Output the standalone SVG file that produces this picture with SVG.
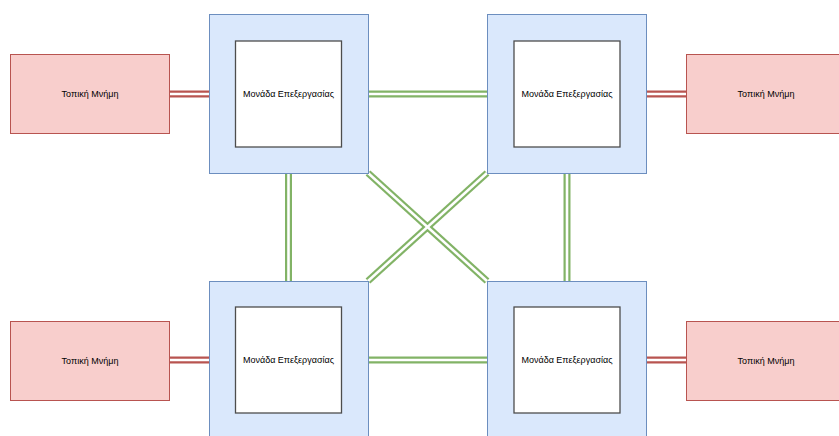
<svg xmlns="http://www.w3.org/2000/svg" width="839" height="436" viewBox="0 0 839 436">
  <style>
    .mem { fill: #f8cecc; stroke: #b85450; stroke-width: 1; }
    .pu { fill: #dae8fc; stroke: #6c8ebf; stroke-width: 1; }
    .core { fill: #ffffff; stroke: #4d4d4d; stroke-width: 1.3; }
    .lbl { font-family: "Liberation Sans", Arial, Helvetica, sans-serif; font-size: 9px; fill: #000000; text-anchor: middle; dominant-baseline: central; }
    .busG { stroke: #82b366; stroke-width: 7; fill: none; }
    .busR { stroke: #b85450; stroke-width: 7; fill: none; }
    .gap { stroke: #ffffff; stroke-width: 2.6; fill: none; }
  </style>
  <rect width="839" height="436" fill="#ffffff"/>

  <!-- double-line links -->
  <g id="connectors">
    <g class="busR">
      <line x1="170" y1="94" x2="209" y2="94"/>
      <line x1="646" y1="94" x2="686" y2="94"/>
      <line x1="170" y1="360" x2="209" y2="360"/>
      <line x1="646" y1="360" x2="686" y2="360"/>
    </g>
    <g class="busG">
      <line x1="368" y1="94" x2="487" y2="94"/>
      <line x1="368" y1="360" x2="487" y2="360"/>
      <line x1="288.5" y1="174" x2="288.5" y2="281"/>
      <line x1="567" y1="174" x2="567" y2="281"/>
      <line x1="368" y1="173" x2="487" y2="281"/>
      <line x1="487" y1="173" x2="368" y2="281"/>
    </g>
    <g class="gap">
      <line x1="170" y1="94" x2="209" y2="94"/>
      <line x1="646" y1="94" x2="686" y2="94"/>
      <line x1="170" y1="360" x2="209" y2="360"/>
      <line x1="646" y1="360" x2="686" y2="360"/>
      <line x1="368" y1="94" x2="487" y2="94"/>
      <line x1="368" y1="360" x2="487" y2="360"/>
      <line x1="288.5" y1="174" x2="288.5" y2="281"/>
      <line x1="567" y1="174" x2="567" y2="281"/>
      <line x1="368" y1="173" x2="487" y2="281"/>
      <line x1="487" y1="173" x2="368" y2="281"/>
    </g>
  </g>

  <!-- local memories -->
  <g id="mem-tl">
    <rect class="mem" x="10.5" y="54.5" width="159" height="79"/>
    <text class="lbl" x="90" y="94">Τοπική Μνήμη</text>
  </g>
  <g id="mem-tr">
    <rect class="mem" x="686.5" y="54.5" width="159" height="79"/>
    <text class="lbl" x="766" y="94">Τοπική Μνήμη</text>
  </g>
  <g id="mem-bl">
    <rect class="mem" x="10.5" y="321.5" width="159" height="79"/>
    <text class="lbl" x="90" y="361">Τοπική Μνήμη</text>
  </g>
  <g id="mem-br">
    <rect class="mem" x="686.5" y="321.5" width="159" height="79"/>
    <text class="lbl" x="766" y="361">Τοπική Μνήμη</text>
  </g>

  <!-- processing units -->
  <g id="pu-tl">
    <rect class="pu" x="209.5" y="14.5" width="159" height="159"/>
    <rect class="core" x="235.5" y="41" width="106" height="106"/>
    <text class="lbl" x="288.5" y="94">Μονάδα Επεξεργασίας</text>
  </g>
  <g id="pu-tr">
    <rect class="pu" x="487.5" y="14.5" width="159" height="159"/>
    <rect class="core" x="514" y="41" width="106" height="106"/>
    <text class="lbl" x="567" y="94">Μονάδα Επεξεργασίας</text>
  </g>
  <g id="pu-bl">
    <rect class="pu" x="209.5" y="281.5" width="159" height="159"/>
    <rect class="core" x="235.5" y="307" width="106" height="106"/>
    <text class="lbl" x="288.5" y="360">Μονάδα Επεξεργασίας</text>
  </g>
  <g id="pu-br">
    <rect class="pu" x="487.5" y="281.5" width="159" height="159"/>
    <rect class="core" x="514" y="307" width="106" height="106"/>
    <text class="lbl" x="567" y="360">Μονάδα Επεξεργασίας</text>
  </g>
</svg>
